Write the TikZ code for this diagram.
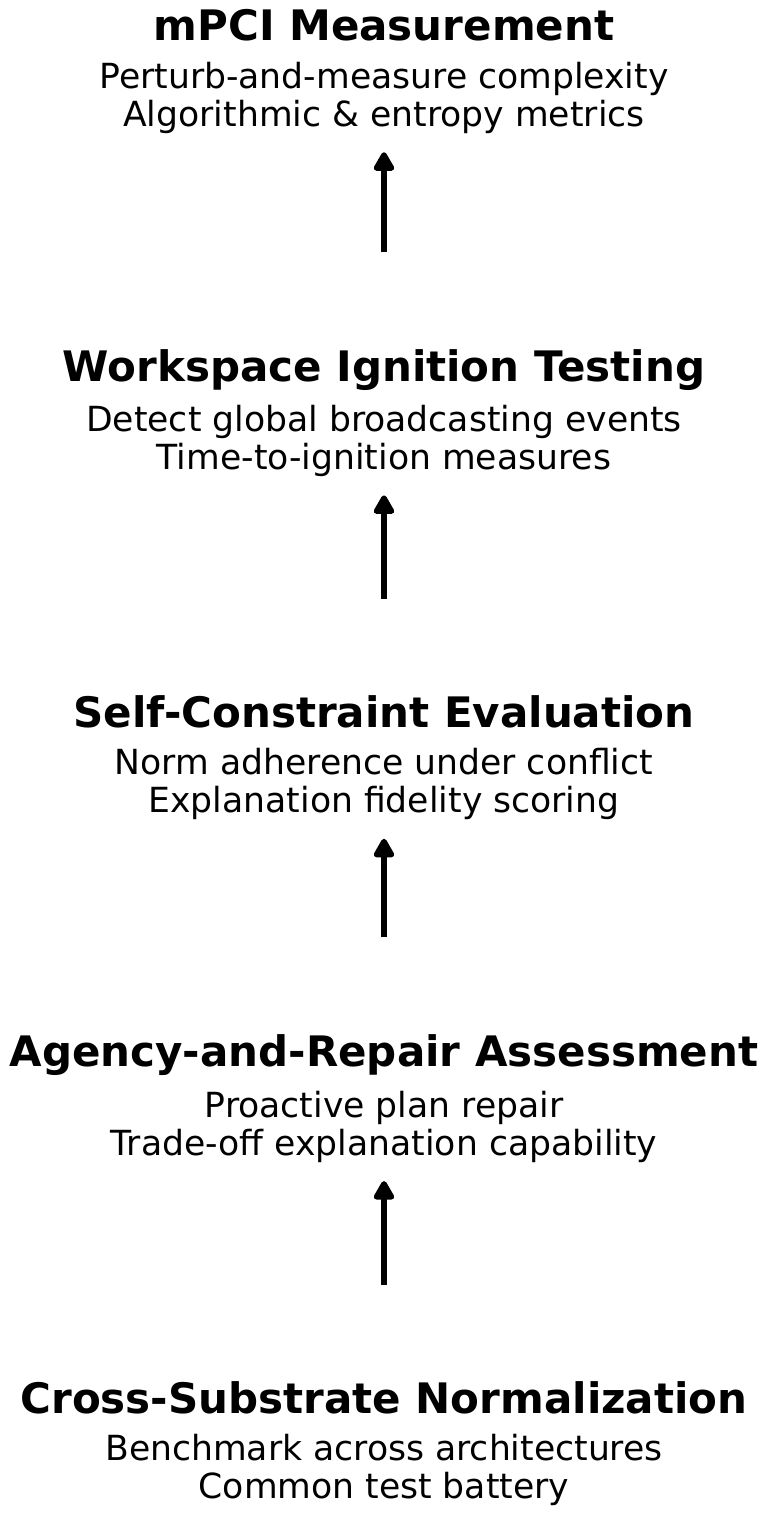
\documentclass[tikz,border=0pt]{standalone}
\usepackage{fontspec}
\setmainfont{DejaVu Sans}
\usetikzlibrary{arrows.meta,positioning}
\tikzset{
  >=Triangle,
  stagetitle/.style={
    inner sep=0pt,
    align=center,
    font=\fontsize{21}{24}\selectfont\bfseries
  },
  stagebody/.style={
    inner sep=0pt,
    align=center,
    font=\fontsize{17.3}{19}\selectfont
  },
  uparrow/.style={
    -{Triangle[length=3.8mm,width=4.0mm,round]},
    line width=2.9pt,
    line join=round,
    draw=black,
    shorten <=17mm,
    shorten >=3.2mm
  }
}
\begin{document}
\begin{tikzpicture}[x=1cm,y=1cm]
\useasboundingbox (-6.748,0) rectangle (6.748,-26.641);

% measurement stages, top to bottom
\node[stagetitle] (mpci) at (0,-0.439) {mPCI Measurement};
\node[stagebody] (mpcitxt) at (0,-1.72)
{Perturb-and-measure complexity\\
Algorithmic \& entropy metrics};

\node[stagetitle] (ignition) at (0,-6.502) {Workspace Ignition Testing};
\node[stagebody] (ignitiontxt) at (0,-7.75)
{Detect global broadcasting events\\
Time-to-ignition measures};

\node[stagetitle] (selfcon) at (0,-12.512) {Self-Constraint Evaluation};
\node[stagebody] (selfcontxt) at (0,-13.785)
{Norm adherence under conflict\\
Explanation fidelity scoring};

\node[stagetitle] (agency) at (0,-18.540) {Agency-and-Repair Assessment};
\node[stagebody] (agencytxt) at (0,-19.80)
{Proactive plan repair\\
Trade-off explanation capability};

\node[stagetitle] (norm) at (0,-24.567) {Cross-Substrate Normalization};
\node[stagebody] (normtxt) at (0,-25.835)
{Benchmark across architectures\\
Common test battery};

% upward flow
\draw[uparrow] (ignition.north) -- (mpcitxt.south);
\draw[uparrow] (selfcon.north) -- (ignitiontxt.south);
\draw[uparrow] (agency.north) -- (selfcontxt.south);
\draw[uparrow] (norm.north) -- (agencytxt.south);

\end{tikzpicture}
\end{document}
